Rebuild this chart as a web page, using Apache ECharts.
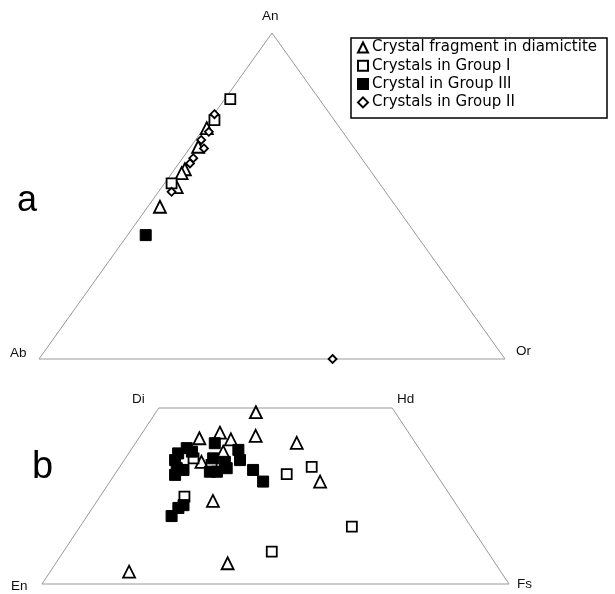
<!DOCTYPE html>
<html>
<head>
<meta charset="utf-8">
<script src="https://cdn.jsdelivr.net/npm/echarts@6/dist/echarts.min.js"></script>
<style>
  html, body { margin: 0; padding: 0; background: #fff; }
  #chart { width: 615px; height: 594px; }
</style>
</head>
<body>
<div id="chart"></div>
<script>
// a) feldspar, each point is [An, Ab, Or] in %
const fragmentFsp = [[70.8, 28.6, 0.6], [65.1, 33.3, 1.6], [58.2, 39.6, 2.2], [57.0, 40.9, 2.1], [52.7, 44.1, 3.2], [46.7, 50.7, 2.6]]
const groupIFsp = [[79.7, 19.1, 1.2], [73.3, 25.7, 1.0], [53.9, 44.6, 1.5]]
const groupIIIFsp = [[38.0, 58.1, 3.9]]
const groupIIFsp = [[75.1, 24.8, 0.1], [69.7, 28.7, 1.6], [67.2, 31.6, 1.2], [64.6, 32.3, 3.1], [61.6, 36.1, 2.3], [60.0, 37.6, 2.4], [51.3, 45.9, 2.8], [0, 37.0, 63.0]]
const fspCorners = [[0, 100, 0], [0, 0, 100], [100, 0, 0], [0, 100, 0]] // Ab, Or, An, Ab

// b) pyroxene, each point is [Wo, En, Fs] in %
const fragmentPx = [[48.8, 29.8, 21.4], [41.4, 45.6, 13.0], [43.0, 40.4, 16.6], [41.1, 39.0, 19.9], [42.1, 33.2, 24.7], [40.1, 25.4, 34.5],
  [34.7, 48.5, 16.8], [37.6, 42.4, 20.0], [29.1, 25.9, 45.0], [23.6, 51.6, 24.8], [5.9, 57.3, 36.8], [3.5, 79.6, 16.9]]
const groupIPx = [[31.2, 32.0, 36.8], [33.3, 25.6, 41.1], [24.8, 57.1, 18.1], [9.2, 46.2, 44.6], [16.3, 25.5, 58.2], [35.7, 49.7, 14.6], [33.8, 46.8, 19.4]]
const groupIIIPx = [[38.6, 49.7, 11.7], [37.1, 52.3, 10.6], [37.6, 49.1, 13.3], [35.2, 53.9, 10.9], [32.9, 54.7, 12.4], [31.0, 56.0, 13.0],
  [32.4, 53.5, 14.1], [40.0, 43.0, 17.0], [35.7, 45.5, 18.8], [31.9, 46.6, 21.5], [31.9, 48.1, 20.0], [34.7, 43.5, 21.8],
  [32.9, 44.0, 23.1], [38.1, 38.9, 23.0], [35.2, 40.0, 24.8], [32.4, 38.6, 29.0], [29.1, 38.1, 32.8], [22.4, 58.5, 19.1],
  [21.6, 60.0, 18.4], [19.3, 62.6, 18.1]]
const pxCorners = [[0, 100, 0], [0, 0, 100], [50, 0, 50], [50, 50, 0], [0, 100, 0]] // En, Fs, Hd, Di, En

const seriesNames = ['Crystal fragment in diamictite', 'Crystals in Group I', 'Crystal in Group III', 'Crystals in Group II']

// ternary -> x/y of the plot (apex up)
const fspXY = p => [(p[2] + p[0] / 2) / 100, p[0] / 100]
const pxXY = p => [(p[2] + p[0] / 2) / 100, p[0] / 100]

const chart = echarts.init(document.getElementById('chart'), null, { renderer: 'canvas' })

const openStyle = { color: '#fff', borderColor: '#000', borderWidth: 1.8, opacity: 1 }
const filledStyle = { color: '#000', borderColor: '#000', borderWidth: 1, opacity: 1 }
const looks = [
  { symbol: 'triangle', symbolSize: 12, itemStyle: openStyle },
  { symbol: 'rect', symbolSize: 10, itemStyle: openStyle },
  { symbol: 'rect', symbolSize: 11, itemStyle: filledStyle },
  { symbol: 'diamond', symbolSize: 8, itemStyle: openStyle }
]

function points(name, idx, data, grid, conv) {
  return Object.assign({
    name: name,
    type: 'scatter',
    xAxisIndex: grid,
    yAxisIndex: grid,
    data: data.map(conv),
    clip: false,
    z: 3 + idx
  }, looks[idx])
}

function outline(data, grid, conv) {
  return {
    type: 'line',
    xAxisIndex: grid,
    yAxisIndex: grid,
    data: data.map(conv),
    symbol: 'none',
    clip: false,
    silent: true,
    lineStyle: { color: '#999', width: 1 },
    z: 1
  }
}

const corner = { fontFamily: 'Liberation Sans', fontSize: 13.5, fill: '#111' }

const option = {
  animation: false,
  backgroundColor: '#fff',
  grid: [
    { left: 39, top: 33, width: 466, height: 326 }, // a
    { left: 42, top: 408, width: 467, height: 176 } // b
  ],
  xAxis: [
    { gridIndex: 0, type: 'value', min: 0, max: 1, show: false },
    { gridIndex: 1, type: 'value', min: 0, max: 1, show: false }
  ],
  yAxis: [
    { gridIndex: 0, type: 'value', min: 0, max: 1, show: false },
    { gridIndex: 1, type: 'value', min: 0, max: 0.5, show: false }
  ],
  legend: {
    orient: 'vertical',
    left: 351,
    top: 38,
    data: seriesNames,
    backgroundColor: '#fff',
    borderColor: '#000',
    borderWidth: 1.5,
    borderRadius: 0,
    padding: [2, 10, 8, 6],
    itemGap: 3.3,
    itemWidth: 10,
    itemHeight: 10,
    textStyle: { fontFamily: 'DejaVu Sans', fontSize: 15, lineHeight: 15, color: '#000', padding: [0, 0, 0, -1] }
  },
  graphic: [
    { type: 'text', left: 262, top: 9, style: Object.assign({ text: 'An' }, corner) },
    { type: 'text', left: 10, top: 346, style: Object.assign({ text: 'Ab' }, corner) },
    { type: 'text', left: 516, top: 344, style: Object.assign({ text: 'Or' }, corner) },
    { type: 'text', left: 132, top: 392, style: Object.assign({ text: 'Di' }, corner) },
    { type: 'text', left: 397, top: 392, style: Object.assign({ text: 'Hd' }, corner) },
    { type: 'text', left: 11, top: 579, style: Object.assign({ text: 'En' }, corner) },
    { type: 'text', left: 517, top: 577, style: Object.assign({ text: 'Fs' }, corner) },
    { type: 'text', left: 17, top: 183, style: { text: 'a', fontFamily: 'Liberation Sans', fontSize: 36, fill: '#000' } },
    { type: 'text', left: 32, top: 449, style: { text: 'b', fontFamily: 'Liberation Sans', fontSize: 38, fill: '#000' } }
  ],
  series: [
    outline(fspCorners, 0, fspXY),
    outline(pxCorners, 1, pxXY),
    points(seriesNames[0], 0, fragmentFsp, 0, fspXY),
    points(seriesNames[1], 1, groupIFsp, 0, fspXY),
    points(seriesNames[2], 2, groupIIIFsp, 0, fspXY),
    points(seriesNames[3], 3, groupIIFsp, 0, fspXY),
    points(seriesNames[0], 0, fragmentPx, 1, pxXY),
    points(seriesNames[1], 1, groupIPx, 1, pxXY),
    points(seriesNames[2], 2, groupIIIPx, 1, pxXY)
  ]
}

chart.setOption(option)
</script>
</body>
</html>
